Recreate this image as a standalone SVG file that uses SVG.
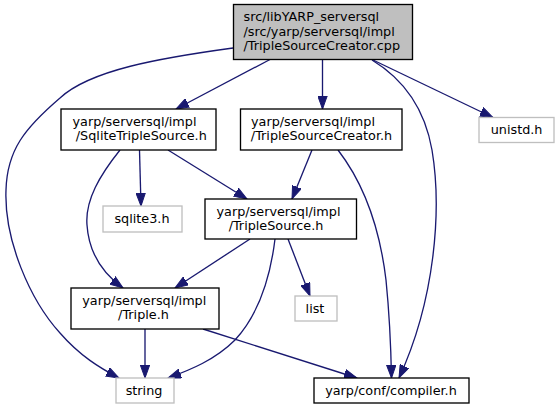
<svg xmlns="http://www.w3.org/2000/svg" width="560" height="409" viewBox="0 0 560 409">
<style>
  .n rect { fill: #ffffff; stroke: #000000; stroke-width: 1.33; }
  .n.main rect { fill: #bfbfbf; }
  .n.ext rect { stroke: #bfbfbf; }
  text { font-family: "DejaVu Sans", "Liberation Sans", sans-serif; font-size: 12.8px; fill: #000000; }
  .c { text-anchor: middle; }
  .e path { fill: none; stroke: #191970; stroke-width: 1.33; marker-end: url(#ah); }
</style>
<defs>
  <marker id="ah" markerUnits="userSpaceOnUse" markerWidth="14" markerHeight="10" refX="13" refY="5" orient="auto" viewBox="0 0 14 10">
    <path d="M0,0.3 L13,5 L0,9.7 z" fill="#191970" stroke="#191970" stroke-width="1"/>
  </marker>
</defs>
<g id="edges" class="e">
  <path d="M270,59.5 L176,109"/>
  <path d="M322.5,59.5 L322.5,109"/>
  <path d="M372,59.5 L493,117.5"/>
  <path d="M372,60 C405,80 425,110 432,150 C442,210 435,300 399,378"/>
  <path d="M233,48 C160,58 90,70 60,98 C25,128 7,150 6,190 C4,240 30,300 60,333 C80,356 100,368 119,378"/>
  <path d="M139.5,150 L141,206"/>
  <path d="M168,150 L247,199"/>
  <path d="M120,150 C100,175 85,200 87,225 C89,255 105,275 123,288"/>
  <path d="M312,150 L292,199"/>
  <path d="M338,150 C365,185 380,230 386,280 C390,320 391,350 391.5,378"/>
  <path d="M250,239 L175,288"/>
  <path d="M275,239 C270,280 258,315 235,340 C215,360 190,370 168,378"/>
  <path d="M288,239 L310,296"/>
  <path d="M145,329 L145,378"/>
  <path d="M203,329 L357,378"/>
</g>
<g id="node_main" class="n main">
  <rect x="233.5" y="4.5" width="179" height="55"/>
  <text x="243.5" y="21">src/libYARP_serversql</text>
  <text x="243.5" y="35.5">/src/yarp/serversql/impl</text>
  <text class="c" x="321.8" y="50">/TripleSourceCreator.cpp</text>
</g>
<g id="node_sqlitetriplesource" class="n">
  <rect x="61" y="109" width="155" height="41"/>
  <text x="72.5" y="125.5">yarp/serversql/impl</text>
  <text class="c" x="141.3" y="140">/SqliteTripleSource.h</text>
</g>
<g id="node_triplesourcecreator" class="n">
  <rect x="240.5" y="109" width="161.5" height="41"/>
  <text x="251" y="125.5">yarp/serversql/impl</text>
  <text class="c" x="321.5" y="140">/TripleSourceCreator.h</text>
</g>
<g id="node_unistd" class="n ext">
  <rect x="479" y="117.5" width="75" height="25"/>
  <text class="c" x="516.6" y="134">unistd.h</text>
</g>
<g id="node_sqlite3" class="n ext">
  <rect x="103" y="206" width="79" height="26"/>
  <text class="c" x="142" y="223">sqlite3.h</text>
</g>
<g id="node_triplesource" class="n">
  <rect x="205" y="199" width="151.5" height="40"/>
  <text x="216.5" y="215.5">yarp/serversql/impl</text>
  <text class="c" x="276" y="230">/TripleSource.h</text>
</g>
<g id="node_triple" class="n">
  <rect x="71" y="288" width="148" height="41"/>
  <text x="82.3" y="304.5">yarp/serversql/impl</text>
  <text class="c" x="143.5" y="319">/Triple.h</text>
</g>
<g id="node_list" class="n ext">
  <rect x="295" y="296" width="42" height="25"/>
  <text class="c" x="315" y="312.5">list</text>
</g>
<g id="node_string" class="n ext">
  <rect x="116" y="378" width="58" height="25"/>
  <text class="c" x="144" y="394.5">string</text>
</g>
<g id="node_compiler" class="n">
  <rect x="314" y="378" width="155" height="25"/>
  <text class="c" x="391" y="394.5">yarp/conf/compiler.h</text>
</g>
</svg>
